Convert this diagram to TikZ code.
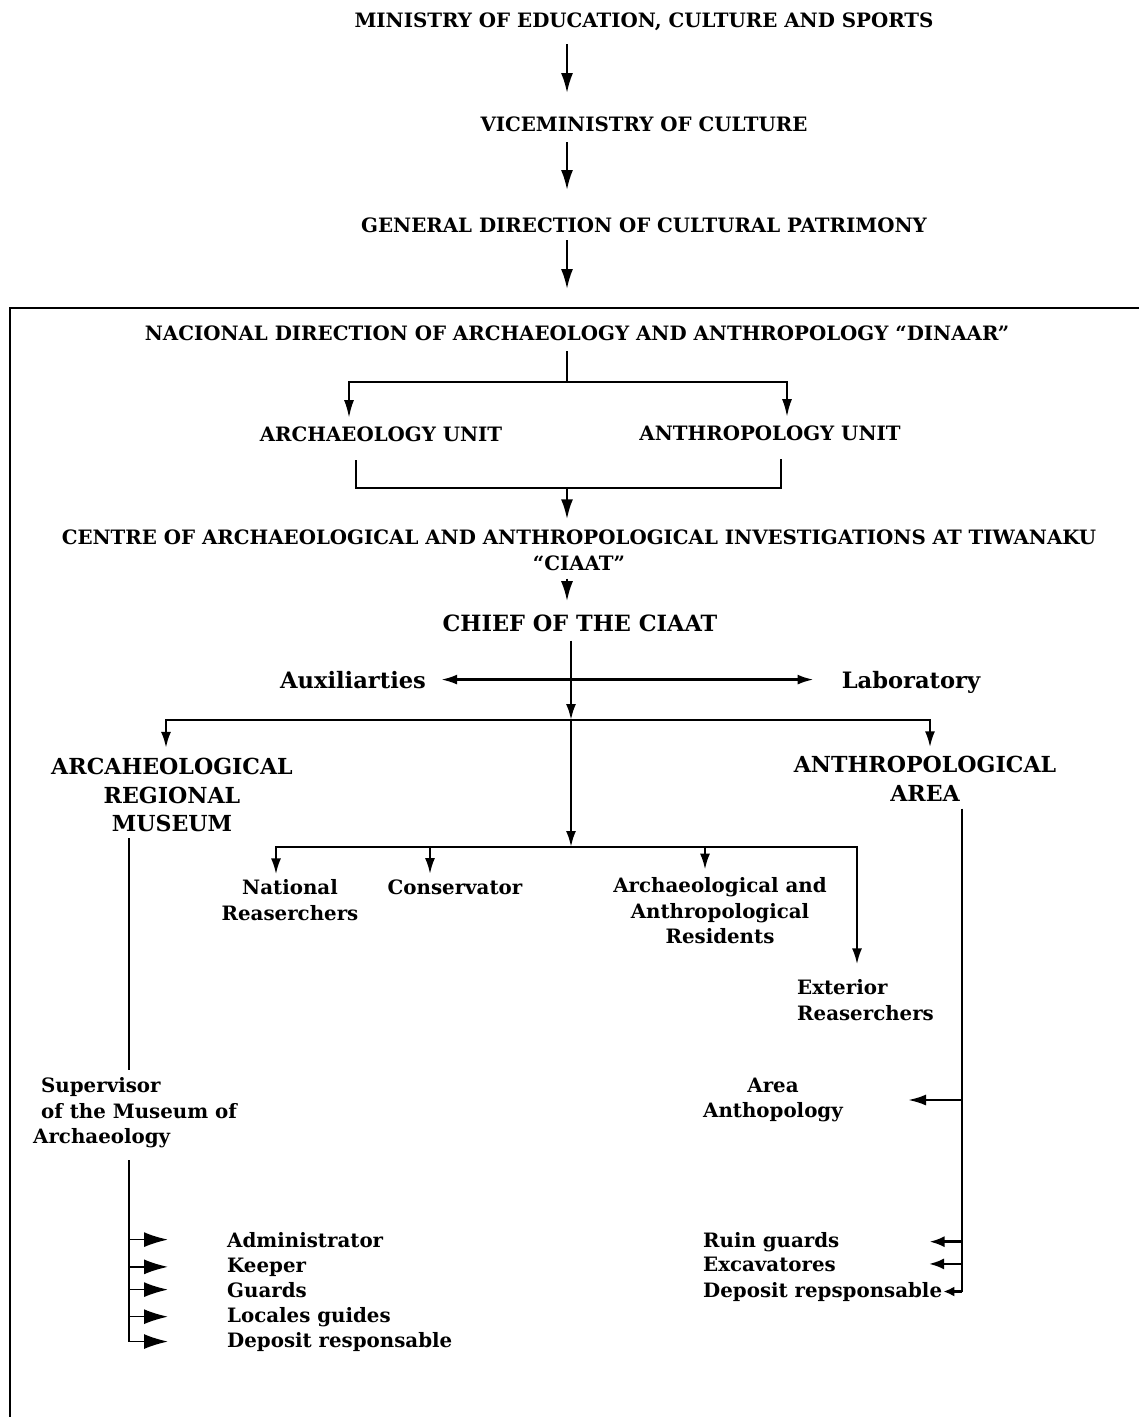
\documentclass[tikz,border=0pt]{standalone}
\usepackage{fontspec}
\usepackage{tikz}
\usetikzlibrary{positioning, arrows.meta, calc}
\newfontfamily\heavyfont{DejaVu Serif}[Ligatures=TeX]
\tikzset{%
  head/.style={font=\fontsize{19.8}{26}\heavyfont\bfseries, align=center}, % capitals of the upper levels
  boss/.style={font=\fontsize{22.4}{25}\heavyfont\bfseries, align=center},
  big/.style={font=\fontsize{22.1}{28.5}\heavyfont\bfseries, align=center},
  side/.style={font=\fontsize{22.6}{28}\heavyfont\bfseries},
  lbl/.style={font=\fontsize{19.8}{25.5}\heavyfont\bfseries, align=center},
  link/.style={line width=2.4pt},
  twig/.style={line width=1.6pt}
}

\begin{document}
\begin{tikzpicture}[x=1pt, y=-1pt, every node/.style={inner sep=0pt}, >={Latex[length=20pt, width=12pt]}]

\useasboundingbox (0,0) rectangle (1139,1417);

\coordinate (spine) at (567,0);
\node[head, anchor=base] (min) at (644,27) {MINISTRY OF EDUCATION, CULTURE AND SPORTS};
\node[head, anchor=base] (vice) at (644,131) {VICEMINISTRY OF CULTURE};
\node[head, anchor=base] (gen) at (644,232) {GENERAL DIRECTION OF CULTURAL PATRIMONY};
\draw[link, ->, shorten <=14pt, shorten >=23pt] (min.south -| spine) -- (vice.north -| spine);
\draw[link, ->, shorten <=11pt, shorten >=27pt] (vice.south -| spine) -- (gen.north -| spine);

\draw[line width=2.6pt] (1139,308) -- (10,308) -- (10,1417);

\node[head, anchor=base] (dinaar) at (577,340) {NACIONAL DIRECTION OF ARCHAEOLOGY AND ANTHROPOLOGY ``DINAAR''};
\draw[link, ->, shorten <=8pt, shorten >=36pt] (gen.south -| spine) -- (dinaar.north -| spine);

\node[head, anchor=base] (arch) at (381,441) {ARCHAEOLOGY UNIT};
\node[head, anchor=base] (anth) at (770,440) {ANTHROPOLOGY UNIT};
\coordinate (fork1) at (567,382);
\coordinate (join1) at (567,488);
\draw[link, shorten <=11pt] (dinaar.south -| fork1) -- (fork1);
\draw[link, -{Latex[length=18pt, width=10pt]}, shorten >=8pt] (fork1) -| ([xshift=-32pt]arch.north);
\draw[link, -{Latex[length=18pt, width=10pt]}, shorten >=8pt] (fork1) -| ([xshift=17pt]anth.north);
\draw[link] ([xshift=-25pt, yshift=-19pt]arch.south) |- (join1) -| ([xshift=11pt, yshift=-19pt]anth.south);

\node[head] (centre) at (579,550) {CENTRE OF ARCHAEOLOGICAL AND ANTHROPOLOGICAL INVESTIGATIONS AT TIWANAKU\\``CIAAT''};
\draw[link, ->, shorten >=10pt] (join1) -- (centre.north -| join1);

\node[boss, anchor=base] (chief) at (580,631) {CHIEF OF THE CIAAT};
\draw[link, ->, shorten <=8pt, shorten >=13pt] (centre.south -| spine) -- (chief.north -| spine);

\node[side, anchor=base] (aux) at (353,688) {Auxiliarties};
\node[side, anchor=base] (lab) at (911,688) {Laboratory};

\coordinate (fork2) at (571,720);
\coordinate (fork3) at (571,847);
\draw[link, -{Latex[length=16pt, width=10pt]}] ([yshift=-9pt]chief.south -| fork2) -- (fork2);
\draw[link, {Latex[length=16pt, width=10pt]}-{Latex[length=16pt, width=10pt]}, shorten <=15pt, shorten >=28pt] (aux.east) -- (aux.east -| lab.west);

\node[big] (museum) at (172,795) {ARCAHEOLOGICAL\\REGIONAL\\MUSEUM};
\node[big] (anthArea) at (925,779) {ANTHROPOLOGICAL\\AREA};
\draw[link, -{Latex[length=16pt, width=10pt]}, shorten >=10pt] (fork2) -| ([xshift=-6pt]museum.north);
\draw[link, -{Latex[length=16pt, width=10pt]}, shorten >=9pt] (fork2) -| ([xshift=5pt]anthArea.north);
\draw[link, -{Latex[length=16pt, width=10pt]}] (fork2) -- (fork3);

\node[lbl] (natres) at (290,900) {National\\Reaserchers};
\node[lbl, anchor=base] (conserv) at (455,894) {Conservator};
\node[lbl] (resid) at (720,911) {Archaeological and\\Anthropological\\Residents};
\node[lbl, align=left, anchor=west] (extres) at (797,1000) {Exterior\\Reaserchers};
\draw[link, -{Latex[length=16pt, width=10pt]}, shorten >=5pt] (fork3) -| ([xshift=-14pt]natres.north);
\draw[link, -{Latex[length=16pt, width=10pt]}, shorten >=5pt] (fork3) -| ([xshift=-25pt]conserv.north);
\draw[link, -{Latex[length=16pt, width=10pt]}, shorten >=8pt] (fork3) -| ([xshift=-15pt]resid.north);
\draw[link, -{Latex[length=16pt, width=10pt]}, shorten >=15pt] (fork3) -| ([xshift=60pt]extres.north west);

\node[lbl, align=left, anchor=west] (superv) at (33,1113) {\hspace*{8pt}Supervisor\\\hspace*{8pt}of the Museum of\\Archaeology};
\node[lbl, anchor=base west] (adm) at (227,1247) {Administrator};
\node[lbl, anchor=base west] (kee) at ([yshift=-25pt]adm.base west) {Keeper};
\node[lbl, anchor=base west] (gua) at ([yshift=-25pt]kee.base west) {Guards};
\node[lbl, anchor=base west] (loc) at ([yshift=-25pt]gua.base west) {Locales guides};
\node[lbl, anchor=base west] (dep) at ([yshift=-25pt]loc.base west) {Deposit responsable};

\coordinate (lx) at (129,0);
\draw[twig, shorten <=6pt, shorten >=8pt] ([xshift=-43pt]museum.south) -- ([xshift=-43pt]museum.south |- superv.north);
\draw[twig, shorten <=12pt] (lx |- superv.south) -- (lx |- dep.west);
\draw[twig, -{Latex[length=24pt, width=15pt]}, shorten >=59pt] (lx |- adm.west) -- (adm.west);
\draw[twig, -{Latex[length=24pt, width=15pt]}, shorten >=59pt] (lx |- kee.west) -- (kee.west);
\draw[twig, -{Latex[length=24pt, width=15pt]}, shorten >=59pt] (lx |- gua.west) -- (gua.west);
\draw[twig, -{Latex[length=24pt, width=15pt]}, shorten >=59pt] (lx |- loc.west) -- (loc.west);
\draw[twig, -{Latex[length=24pt, width=15pt]}, shorten >=59pt] (lx |- dep.west) -- (dep.west);

\node[lbl] (areaA) at (773,1100) {Area\\Anthopology};
\node[lbl, anchor=base west] (ruin) at (703,1247) {Ruin guards};
\node[lbl, anchor=base west] (exc) at ([yshift=-24pt]ruin.base west) {Excavatores};
\node[lbl, anchor=base west] (drep) at ([yshift=-26pt]exc.base west) {Deposit repsponsable};

\coordinate (rx) at (962,0);
\draw[link, shorten <=7pt] ([xshift=37pt]anthArea.south) -- (rx |- drep.east);
\draw[link, -{Latex[length=18pt, width=11pt]}, shorten >=65pt] (rx |- areaA.east) -- (areaA.east);
\draw[link, -{Latex[length=15pt, width=11pt]}, shorten >=90pt] (rx |- ruin.east) -- (ruin.east);
\draw[link, -{Latex[length=15pt, width=11pt]}, shorten >=93pt] (rx |- exc.east) -- (exc.east);
\draw[link, -{Latex[length=11pt, width=10pt]}, shorten >=1pt] (rx |- drep.east) -- (drep.east);

\end{tikzpicture}
\end{document}
